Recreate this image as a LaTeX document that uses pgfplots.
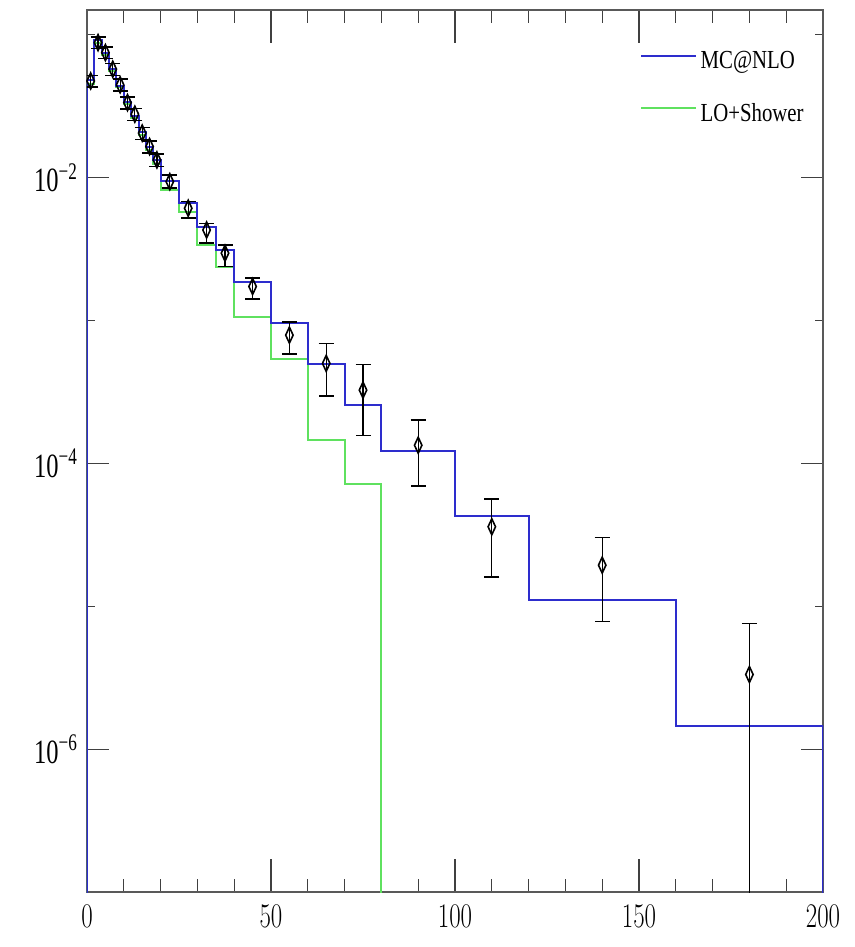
\documentclass[border=0pt]{standalone}
\usepackage{fontspec}
\setmainfont{Liberation Serif}
\usepackage{pgfplots}
\pgfplotsset{compat=1.18}
\definecolor{mcblue}{RGB}{45,45,205}
\definecolor{lsgreen}{RGB}{95,225,95}

% data points: x, y, error plus, error minus
\pgfplotstableread{
x     y        ep        em
1     0.0475   0.0045    0.0045
3     0.0881   0.008     0.008
5     0.075    0.007     0.007
7     0.0574   0.0055    0.0055
9     0.0446   0.0043    0.0043
11    0.0335   0.0032    0.0032
13    0.0278   0.0027    0.0027
15    0.0205   0.002     0.002
17    0.0165   0.0016    0.0016
19    0.0133   0.0013    0.0013
22.5  0.00937  0.00107   0.00094
27.5  0.00611  0.00068   0.00091
32.5  0.0043   0.00048   0.0008
37.5  0.00296  0.00042   0.00058
45    0.00173  0.00025   0.00032
55    0.00079  0.00019   0.000207
65    0.000501 0.000191  0.000204
75    0.000326 0.000167  0.000169
90    0.000134 0.000067  0.0000643
110   3.6e-5   2.02e-5   1.99e-5
140   1.94e-5  1.09e-5   1.16e-5
180   3.33e-6  4.26e-6   3.329e-6
}\pointsdata

\begin{document}
\begin{tikzpicture}
\begin{semilogyaxis}[
  scale only axis, width=368pt, height=441pt,
  xmin=0, xmax=200, ymin=1e-7, ymax=0.149,
  axis line style={draw=black!65, line width=0.8pt},
  tick style={draw=black!75, line width=0.6pt},
  tick align=inside,
  xtick={0,50,100,150,200},
  minor xtick={10,20,30,40,60,70,80,90,110,120,130,140,160,170,180,190},
  ytick={1e-6,1e-4,1e-2},
  minor ytick={1e-5,1e-3,1e-1},
  yticklabels={10\textsuperscript{−6},10\textsuperscript{−4},10\textsuperscript{−2}},
  xtick style={/pgfplots/major tick length=16.5pt, /pgfplots/minor tick length=6.5pt},
  ytick style={/pgfplots/major tick length=11pt, /pgfplots/minor tick length=4pt},
  xticklabel style={font=\fontsize{17}{19}\selectfont, xscale=0.72, yshift=-3pt},
  yticklabel style={font=\fontsize{17}{19}\selectfont, xscale=0.72, xshift=-3pt},
  legend style={draw=none, fill=none, at={(0.7514,0.958)}, anchor=north west,
    font=\fontsize{13}{15}\selectfont, row sep=12pt, inner sep=0pt,
    nodes={xscale=0.8}},
  legend cell align=left,
  legend image code/.code={\draw[#1] (0pt,0.3em) -- (27.5pt,0.3em);},
]
\coordinate (bl) at (rel axis cs:0,0);
\coordinate (tr) at (rel axis cs:1,1);

\addplot[const plot, draw=mcblue, line width=1pt] coordinates {
  (0,1e-10) (0,0.048) (2,0.092) (4,0.074) (6,0.058) (8,0.044)
  (10,0.034) (12,0.027) (14,0.021) (16,0.0165) (18,0.0132)
  (20,0.00948) (25,0.00662) (30,0.00454) (35,0.00312)
  (40,0.00187) (50,0.000966) (60,0.000493) (70,0.000257)
  (80,0.000123) (100,4.27e-5) (120,1.10e-5) (160,1.445e-6)
  (200,1e-10)
};
\addlegendentry{MC@NLO}

\addplot[const plot, draw=lsgreen, line width=1pt] coordinates {
  (0,1e-10) (0,0.045) (2,0.088) (4,0.072) (6,0.056) (8,0.043)
  (10,0.033) (12,0.026) (14,0.020) (16,0.0155) (18,0.0125)
  (20,0.0082) (25,0.00578) (30,0.00338) (35,0.00238)
  (40,0.00106) (50,0.000534) (60,0.000146) (70,7.16e-5)
  (80,1e-10)
};
\addlegendentry{LO+Shower}

% redraw blue over green
\addplot[const plot, draw=mcblue, line width=1pt, forget plot] coordinates {
  (0,1e-10) (0,0.048) (2,0.092) (4,0.074) (6,0.058) (8,0.044)
  (10,0.034) (12,0.027) (14,0.021) (16,0.0165) (18,0.0132)
  (20,0.00948) (25,0.00662) (30,0.00454) (35,0.00312)
  (40,0.00187) (50,0.000966) (60,0.000493) (70,0.000257)
  (80,0.000123) (100,4.27e-5) (120,1.10e-5) (160,1.445e-6)
  (200,1e-10)
};

\addplot[only marks, mark=diamond, mark size=4pt, black, line width=0.6pt,
  mark options={xscale=0.62, line width=0.8pt}, forget plot,
  error bars/.cd, y dir=both, y explicit,
  error bar style={line width=0.6pt, black},
  error mark options={rotate=90, mark size=3.75pt, line width=0.8pt, black}]
  table[x=x, y=y, y error plus=ep, y error minus=em] {\pointsdata};
\end{semilogyaxis}
\path (bl) ++(-43.5pt,-27.5pt);
\path (tr) ++(16pt,5pt);
\end{tikzpicture}
\end{document}
